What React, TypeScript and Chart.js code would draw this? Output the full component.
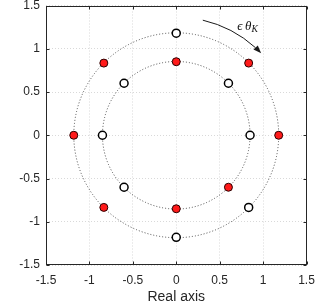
import React, { useEffect, useRef } from 'react';
import { Chart, registerables } from 'chart.js';
Chart.register(...registerables);

// tick values
const xTicks = [-1.5, -1, -0.5, 0, 0.5, 1, 1.5];
const yTicks = [-1.5, -1, -0.5, 0, 0.5, 1, 1.5];
const xTitle = 'Real axis';

// dotted reference circles (radii)
const circleRadii = [0.85, 1.18];

// filled (red) points
const redX = [1.18, 0.834, -0.834, -1.18, -0.834, 0, 0, 0.601];
const redY = [0, 0.834, 0.834, 0, -0.834, 0.85, -0.85, -0.601];

// open (white) points
const openX = [0, 0, 0.834, 0.85, 0.601, -0.601, -0.85, -0.601];
const openY = [1.18, -1.18, -0.834, 0, 0.601, 0.601, 0, -0.601];

// annotation arrow: radius, start angle, end angle (degrees)
const arrowRadius = 1.36;
const arrowAngles = [77, 44];
const labelPos = [0.82, 1.26];
const labelMain = 'ϵ\u2009θ';
const labelSub = 'K';

const decor = {
  id: 'decor',
  beforeDatasetsDraw(chart: any) {
    const { ctx, chartArea: a, scales } = chart;
    const x = scales.x, y = scales.y;
    const cx = x.getPixelForValue(0), cy = y.getPixelForValue(0);
    ctx.save();
    ctx.strokeStyle = '#4a4a4a';
    ctx.lineWidth = 1;
    ctx.setLineDash([1, 2]);
    circleRadii.forEach((r) => {
      const rp = x.getPixelForValue(r) - cx;
      ctx.beginPath();
      ctx.arc(cx, cy, rp, 0, Math.PI * 2);
      ctx.stroke();
    });
    ctx.setLineDash([]);
    ctx.strokeStyle = '#262626';
    ctx.lineWidth = 1;
    const L = Math.round(a.left) + 0.5, R = Math.round(a.right) - 0.5;
    const T = Math.round(a.top) + 0.5, B = Math.round(a.bottom) - 0.5;
    ctx.strokeRect(L, T, R - L, B - T);
    const tl = 3;
    ctx.beginPath();
    xTicks.forEach((v) => {
      const p = Math.round(x.getPixelForValue(v)) + 0.5;
      ctx.moveTo(p, B); ctx.lineTo(p, B - tl);
      ctx.moveTo(p, T); ctx.lineTo(p, T + tl);
    });
    yTicks.forEach((v) => {
      const p = Math.round(y.getPixelForValue(v)) + 0.5;
      ctx.moveTo(L, p); ctx.lineTo(L + tl, p);
      ctx.moveTo(R, p); ctx.lineTo(R - tl, p);
    });
    ctx.stroke();
    ctx.restore();
  },
  afterDatasetsDraw(chart: any) {
    const { ctx, scales } = chart;
    const x = scales.x, y = scales.y;
    const cx = x.getPixelForValue(0), cy = y.getPixelForValue(0);
    const rp = x.getPixelForValue(arrowRadius) - cx;
    const a0 = (-arrowAngles[0] * Math.PI) / 180;
    const a1 = (-arrowAngles[1] * Math.PI) / 180;
    const headLen = 8, headW = 3;
    const tipX = cx + rp * Math.cos(a1), tipY = cy + rp * Math.sin(a1);
    const tx = -Math.sin(a1), ty = Math.cos(a1);
    const back = headLen / rp;
    ctx.save();
    ctx.strokeStyle = '#1a1a1a';
    ctx.fillStyle = '#1a1a1a';
    ctx.lineWidth = 1;
    ctx.beginPath();
    ctx.arc(cx, cy, rp, a0, a1 - back, false);
    ctx.stroke();
    const bx = tipX - tx * headLen, by = tipY - ty * headLen;
    ctx.beginPath();
    ctx.moveTo(tipX, tipY);
    ctx.lineTo(bx - ty * headW, by + tx * headW);
    ctx.lineTo(bx + ty * headW, by - tx * headW);
    ctx.closePath();
    ctx.fill();
    // label
    const lx = x.getPixelForValue(labelPos[0]);
    const ly = y.getPixelForValue(labelPos[1]);
    const mainFont = 'italic 13px "Liberation Serif", "DejaVu Serif", serif';
    const subFont = 'italic 9.5px "Liberation Serif", "DejaVu Serif", serif';
    ctx.font = mainFont;
    const w1 = ctx.measureText(labelMain).width;
    ctx.font = subFont;
    const w2 = ctx.measureText(labelSub).width;
    const start = lx - (w1 + w2) / 2;
    ctx.textBaseline = 'middle';
    ctx.textAlign = 'left';
    ctx.fillStyle = '#111';
    ctx.font = mainFont;
    ctx.fillText(labelMain, start, ly);
    ctx.font = subFont;
    ctx.fillText(labelSub, start + w1, ly + 3);
    ctx.restore();
  },
};

export default function App() {
  const ref = useRef<HTMLCanvasElement>(null);
  useEffect(() => {
    document.body.style.margin = '0';
    const font = { family: '"Liberation Sans", Arial, Helvetica, sans-serif', size: 12 };
    const chart = new Chart(ref.current as HTMLCanvasElement, {
      type: 'scatter',
      data: {
        datasets: [
          {
            label: 'red',
            data: redX.map((v, i) => ({ x: v, y: redY[i] })),
            backgroundColor: '#ff1a1a',
            borderColor: '#2a0000',
            borderWidth: 1,
            pointRadius: 4,
          },
          {
            label: 'open',
            data: openX.map((v, i) => ({ x: v, y: openY[i] })),
            backgroundColor: '#ffffff',
            borderColor: '#000000',
            borderWidth: 1.5,
            pointRadius: 4,
          },
        ],
      },
      options: {
        responsive: false,
        animation: false,
        devicePixelRatio: 1,
        layout: { padding: { left: 0, top: 5, right: 8.5, bottom: 0 } },
        plugins: { legend: { display: false }, tooltip: { enabled: false } },
        scales: {
          x: {
            type: 'linear',
            min: -1.5,
            max: 1.5,
            afterBuildTicks: (s: any) => { s.ticks = xTicks.map((v) => ({ value: v })); },
            afterFit: (s: any) => { s.height = 39; s.paddingLeft = 0; s.paddingRight = 0; },
            ticks: { font, color: '#262626', padding: 8, maxRotation: 0, autoSkip: false, callback: (v: any) => String(v) },
            grid: { color: '#d9d9d9', lineWidth: 1, drawTicks: false },
            border: { display: false, dash: [1, 2] },
            title: { display: true, text: xTitle, font: { family: font.family, size: 14 }, color: '#262626', padding: { top: 0, bottom: -2 } },
          },
          y: {
            type: 'linear',
            min: -1.5,
            max: 1.5,
            afterBuildTicks: (s: any) => { s.ticks = yTicks.map((v) => ({ value: v })); },
            afterFit: (s: any) => { s.width = 46; s.paddingTop = 0; s.paddingBottom = 0; },
            ticks: { font, color: '#262626', padding: 6, autoSkip: false, callback: (v: any) => String(v) },
            grid: { color: '#d9d9d9', lineWidth: 1, drawTicks: false },
            border: { display: false, dash: [1, 2] },
          },
        },
      },
      plugins: [decor],
    } as any);
    return () => chart.destroy();
  }, []);
  return (
    <div style={{ position: 'fixed', left: 0, top: 0, width: 315, height: 304, background: '#fff' }}>
      <canvas ref={ref} width={315} height={304} style={{ display: 'block' }} />
    </div>
  );
}
